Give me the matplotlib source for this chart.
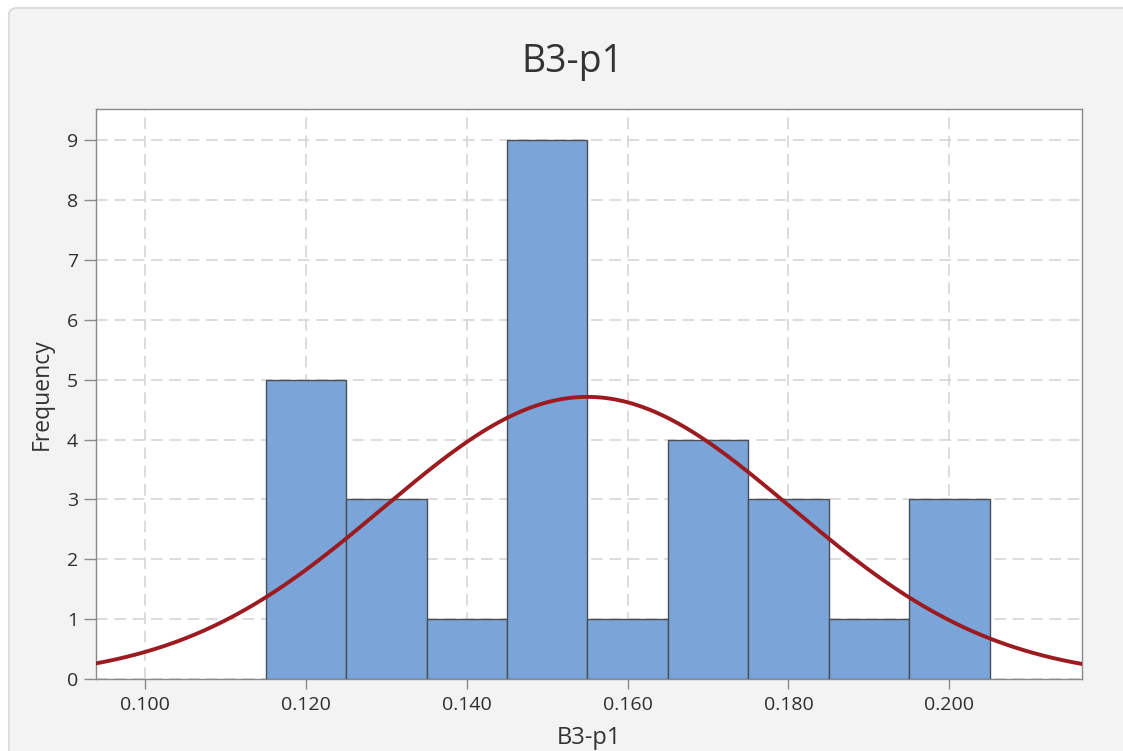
import numpy as np
import matplotlib
matplotlib.use("Agg")
import matplotlib.pyplot as plt
from matplotlib.patches import FancyBboxPatch

bin_centers = [0.120, 0.130, 0.140, 0.150, 0.160, 0.170, 0.180, 0.190, 0.200]
counts = [5, 3, 1, 9, 1, 4, 3, 1, 3]
bin_width = 0.01
fit_mean = 0.155
fit_sd = 0.0254
x_ticks = [0.100, 0.120, 0.140, 0.160, 0.180, 0.200]
x_tick_labels = ["0.100", "0.120", "0.140", "0.160", "0.180", "0.200"]
y_ticks = list(range(0, 10))

plt.rcParams['font.family'] = ['Open Sans', 'DejaVu Sans']

fig = plt.figure(figsize=(11.23, 7.51), dpi=100)
fig.patch.set_facecolor('white')
W, H = 1123, 751
panel = FancyBboxPatch((9 / W, -0.05), (W - 9) / W + 0.02, (H - 8) / H + 0.05,
                       boxstyle="round,pad=0,rounding_size=0.008",
                       transform=fig.transFigure, facecolor='#f3f3f3',
                       edgecolor='#dcdcdc', linewidth=1.5, zorder=-10)
fig.patches.append(panel)

left, right, top, bottom = 96, 1082, 109, 679
ax = fig.add_axes([left / W, 1 - bottom / H, (right - left) / W, (bottom - top) / H])
ax.set_zorder(5)
ax.set_facecolor('white')

ax.bar(bin_centers, counts, width=bin_width, color='#7ba5d8', edgecolor='#4a4f57',
       linewidth=1.0, zorder=3)

xs = np.linspace(0.0939, 0.2166, 400)
n = sum(counts)
ys = n * bin_width / (fit_sd * np.sqrt(2 * np.pi)) * np.exp(-0.5 * ((xs - fit_mean) / fit_sd) ** 2)
ax.plot(xs, ys, color='#9c1b20', linewidth=2.8, zorder=4)

ax.set_xlim(0.0939, 0.2165)
ax.set_ylim(0, 9.52)
ax.set_xticks(x_ticks)
ax.set_xticklabels(x_tick_labels)
ax.set_yticks(y_ticks)

ax.grid(True, color='#d6d6d6', linestyle=(0, (7, 4)), linewidth=1.2, zorder=0)
ax.set_axisbelow(True)

for s in ax.spines.values():
    s.set_color('#8a8a8a')
    s.set_linewidth(1.0)

ax.tick_params(axis='x', direction='out', length=7, width=1, color='#8a8a8a',
               labelsize=14, labelcolor='#2e2e2e', pad=5)
ax.tick_params(axis='y', direction='out', length=9, width=1, color='#8a8a8a',
               labelsize=14, labelcolor='#2e2e2e', pad=4)

ax.set_xlabel('B3-p1', fontsize=17, color='#333333', labelpad=9)
ax.set_ylabel('Frequency', fontsize=16.5, color='#333333', labelpad=9)
fig.text(572 / W, 1 - 62 / H, 'B3-p1', ha='center', va='center',
         fontsize=27, color='#333333')

fig.savefig('out.png', dpi=100, facecolor=fig.get_facecolor())
